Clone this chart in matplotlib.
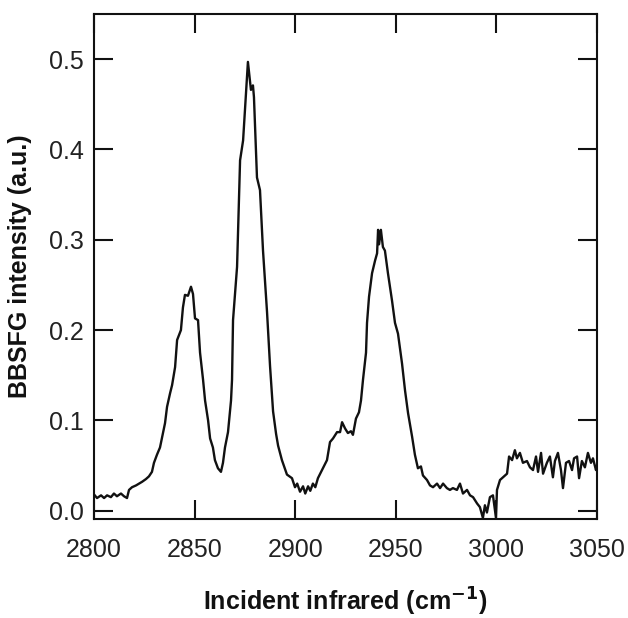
import numpy as np
import matplotlib
matplotlib.use("Agg")
import matplotlib.pyplot as plt

# BBSFG spectrum
wavenumber = [
    2800.0, 2801.5, 2803.5, 2805.0, 2806.5, 2808.4, 2809.9, 2811.4, 2813.4, 2814.9,
    2816.4, 2817.4, 2818.9, 2820.9, 2822.4, 2823.9, 2825.8, 2827.3, 2828.8, 2829.8,
    2831.3, 2832.8, 2833.8, 2835.3, 2836.3, 2837.8, 2838.8, 2840.3, 2841.3, 2843.2,
    2844.2, 2845.2, 2846.7, 2848.2, 2849.2, 2850.2, 2851.7, 2852.7, 2854.2, 2855.2,
    2856.7, 2857.7, 2859.1, 2860.1, 2861.6, 2863.1, 2864.1, 2865.1, 2866.6, 2868.1,
    2868.6, 2869.1, 2871.1, 2872.6, 2874.1, 2876.5, 2878.0, 2879.0, 2879.5, 2881.0,
    2882.5, 2884.0, 2886.0, 2887.5, 2889.0, 2890.5, 2891.5, 2893.4, 2895.9, 2898.4,
    2899.9, 2901.0, 2902.4, 2903.9, 2905.0, 2906.4, 2907.5, 2908.8, 2910.0, 2911.3,
    2913.3, 2915.8, 2917.3, 2918.8, 2920.8, 2922.3, 2923.3, 2924.8, 2926.2, 2927.7,
    2928.7, 2930.2, 2931.7, 2932.7, 2933.7, 2935.2, 2935.7, 2936.7, 2938.2, 2939.7,
    2940.7, 2941.2, 2941.7, 2942.6, 2943.6, 2944.6, 2946.1, 2948.1, 2949.6, 2951.1,
    2953.1, 2954.6, 2956.1, 2958.1, 2959.5, 2961.0, 2962.5, 2963.5, 2965.5, 2967.0,
    2968.5, 2970.5, 2972.0, 2973.5, 2975.4, 2976.9, 2978.4, 2980.4, 2981.9, 2983.4,
    2985.4, 2986.9, 2988.4, 2990.4, 2991.8, 2993.3, 2994.3, 2995.3, 2996.8, 2998.3,
    2999.8, 3000.3, 3001.8, 3003.3, 3005.3, 3006.3, 3007.8, 3009.2, 3010.2, 3011.7,
    3013.2, 3015.2, 3016.7, 3018.2, 3019.7, 3020.7, 3022.2, 3023.2, 3025.1, 3026.6,
    3028.1, 3029.1, 3030.6, 3032.1, 3033.1, 3034.6, 3036.1, 3037.6, 3038.6, 3040.1,
    3041.1, 3042.5, 3044.0, 3045.5, 3047.0, 3048.0, 3049.5, 3050.0,
]
intensity = [
    0.018, 0.014, 0.017, 0.014, 0.017, 0.015, 0.019, 0.016, 0.019, 0.016,
    0.014, 0.023, 0.026, 0.028, 0.030, 0.032, 0.035, 0.038, 0.043, 0.053,
    0.062, 0.070, 0.081, 0.097, 0.115, 0.130, 0.139, 0.159, 0.189, 0.200,
    0.225, 0.239, 0.238, 0.248, 0.240, 0.213, 0.211, 0.175, 0.145, 0.122,
    0.100, 0.080, 0.070, 0.056, 0.047, 0.043, 0.053, 0.070, 0.087, 0.122,
    0.145, 0.211, 0.270, 0.388, 0.410, 0.497, 0.466, 0.471, 0.458, 0.369,
    0.355, 0.288, 0.220, 0.160, 0.110, 0.085, 0.072, 0.056, 0.040, 0.036,
    0.026, 0.030, 0.021, 0.027, 0.019, 0.027, 0.022, 0.030, 0.026, 0.036,
    0.045, 0.056, 0.076, 0.080, 0.087, 0.087, 0.098, 0.091, 0.086, 0.088,
    0.084, 0.102, 0.109, 0.122, 0.145, 0.175, 0.208, 0.237, 0.263, 0.277,
    0.285, 0.311, 0.295, 0.311, 0.292, 0.288, 0.263, 0.233, 0.208, 0.196,
    0.163, 0.133, 0.108, 0.082, 0.062, 0.047, 0.049, 0.039, 0.034, 0.028,
    0.026, 0.030, 0.025, 0.030, 0.025, 0.023, 0.025, 0.023, 0.030, 0.019,
    0.023, 0.017, 0.015, 0.008, 0.004, -0.008, 0.006, -0.002, 0.015, 0.017,
    -0.008, 0.023, 0.034, 0.037, 0.041, 0.060, 0.056, 0.067, 0.058, 0.064,
    0.053, 0.055, 0.048, 0.045, 0.060, 0.043, 0.064, 0.041, 0.053, 0.060,
    0.037, 0.055, 0.064, 0.045, 0.025, 0.053, 0.055, 0.045, 0.058, 0.060,
    0.036, 0.055, 0.048, 0.064, 0.053, 0.058, 0.045, 0.050,
]

xticks = [2800, 2850, 2900, 2950, 3000, 3050]
yticks = [0.0, 0.1, 0.2, 0.3, 0.4, 0.5]

plt.rcParams['font.family'] = ['Liberation Sans', 'DejaVu Sans']
ink = '#111111'

fig = plt.figure(figsize=(6.28, 6.18), dpi=100)
ax = fig.add_axes([0.1497, 0.1602, 0.8009, 0.8171])

ax.plot(wavenumber, intensity, color=ink, lw=1.7)

ax.set_xlim(2800, 3050)
ax.set_ylim(-0.0092, 0.55)
ax.set_xticks(xticks)
ax.set_yticks(yticks)
ax.set_yticklabels(['%.1f' % v for v in yticks])

for s in ax.spines.values():
    s.set_linewidth(1.5)
    s.set_color(ink)

ax.tick_params(direction='in', length=13.5, width=1.5, color=ink,
               top=True, right=True, labelsize=18, labelcolor='#222222')
ax.tick_params(axis='x', pad=13.5)
ax.tick_params(axis='y', pad=7.5)

ax.set_xlabel('Incident infrared (cm$^{\\mathbf{-1}}$)', fontsize=18,
              fontweight='bold', color=ink)
ax.set_ylabel('BBSFG intensity (a.u.)', fontsize=18, fontweight='bold', color=ink)
ax.xaxis.set_label_coords(0.5, -0.133)
ax.yaxis.set_label_coords(-0.123, 0.5)

fig.savefig('out.png', dpi=100)
